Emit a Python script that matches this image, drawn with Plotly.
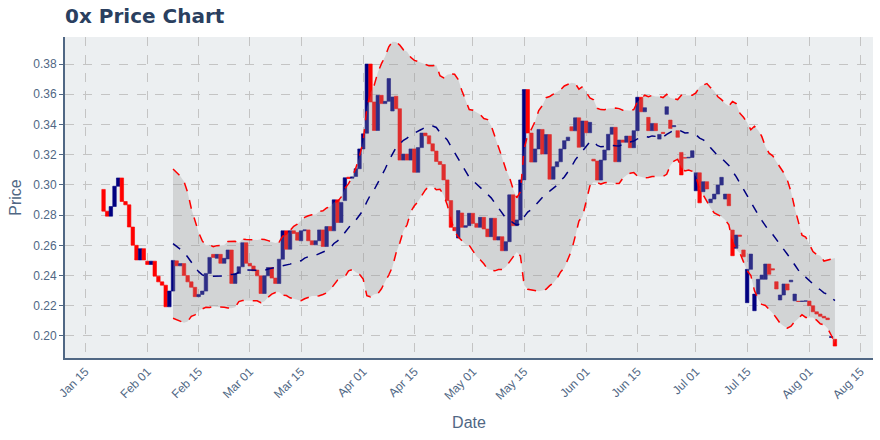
import pandas as pd
import plotly.graph_objects as go

start_date = "2019-01-20"
opens = [
    # Jan 20-31
    .2970, .2826, .2793, .2857, .2991, .3046, .2890, .2868, .2721, .2600, .2503, .2578,
    # Feb
    .2495, .2473, .2495, .2396, .2358, .2336, .2193, .2297, .2497, .2464, .2479, .2400, .2358, .2322,
    .2260, .2275, .2297, .2414, .2540, .2514, .2540, .2481, .2510, .2569, .2348, .2414, .2458, .2617,
    # Mar
    .2481, .2463, .2436, .2398, .2281, .2398, .2453, .2383, .2347, .2508, .2696, .2574, .2696, .2685,
    .2630, .2696, .2702, .2630, .2603, .2630, .2702, .2592, .2724, .2696, .2901, .2751, .2896, .3051,
    .3044, .3056, .3107,
    # Apr
    .3238, .3342, .3800, .3549, .3360, .3593, .3538, .3553, .3489, .3587, .3504, .3164, .3204, .3164,
    .3238, .3083, .3247, .3343, .3325, .3272, .3224, .3155, .3135, .3033, .2896, .2719, .2648, .2814,
    .2719, .2730,
    # May
    .2812, .2745, .2719, .2785, .2708, .2657, .2779, .2635, .2657, .2564, .2624, .2934, .2730, .2768,
    .3033, .3631, .3343, .3151, .3238, .3367, .3204, .3333, .3038, .3120, .3153, .3238, .3293, .3385,
    .3358, .3444, .3253,
    # Jun
    .3423, .3345, .3170, .3158, .3032, .3164, .3231, .3335, .3381, .3153, .3297, .3282, .3323, .3246,
    .3359, .3580, .3484, .3447, .3359, .3407, .3303, .3348, .3467, .3429, .3385, .3359, .3215, .3180,
    .3178, .3182,
    # Jul
    .2961, .3080, .2955, .3021, .2882, .2906, .2939, .2999, .2906, .2939, .2701, .2580, .2668, .2569,
    .2220, .2441, .2167, .2277, .2375, .2375, .2476, .2445, .2359, .2238, .2271, .2344, .2358, .2233,
    .2230, .2228, .2230,
    # Aug 1-8
    .2231, .2200, .2160, .2145, .2130, .2119, .1990, .1978,
]
closes = [
    # Jan 20-31
    .2826, .2793, .2857, .2991, .3046, .2890, .2868, .2721, .2600, .2503, .2578, .2503,
    # Feb
    .2473, .2495, .2396, .2358, .2336, .2193, .2297, .2500, .2464, .2479, .2400, .2358, .2322, .2260,
    .2275, .2297, .2414, .2520, .2520, .2540, .2481, .2514, .2569, .2348, .2414, .2458, .2617, .2481,
    # Mar
    .2463, .2431, .2398, .2281, .2398, .2453, .2383, .2347, .2508, .2696, .2574, .2696, .2678, .2634,
    .2696, .2702, .2630, .2603, .2630, .2702, .2592, .2724, .2696, .2901, .2751, .2884, .3047, .3042,
    .3053, .3107, .3238,
    # Apr
    .3338, .3800, .3549, .3360, .3593, .3538, .3553, .3704, .3582, .3504, .3164, .3204, .3164, .3238,
    .3083, .3247, .3343, .3325, .3272, .3224, .3155, .3135, .3033, .2896, .2719, .2697, .2830, .2719,
    .2730, .2812,
    # May
    .2745, .2719, .2785, .2708, .2657, .2779, .2635, .2657, .2564, .2624, .2934, .2730, .2768, .3033,
    .3631, .3343, .3151, .3238, .3367, .3204, .3333, .3038, .3120, .3153, .3238, .3293, .3316, .3358,
    .3444, .3249, .3423,
    # Jun
    .3345, .3414, .3158, .3032, .3164, .3231, .3335, .3381, .3153, .3297, .3282, .3323, .3246, .3359,
    .3580, .3484, .3511, .3359, .3407, .3359, .3334, .3341, .3517, .3374, .3392, .3315, .3066, .3178,
    .3182, .3226,
    # Jul
    .3080, .2881, .3021, .2973, .2906, .2939, .2999, .3050, .2939, .2862, .2531, .2668, .2660, .2524,
    .2441, .2542, .2277, .2375, .2403, .2476, .2408, .2437, .2311, .2271, .2344, .2304, .2369, .2277,
    .2228, .2230, .2232,
    # Aug 1-8
    .2200, .2160, .2145, .2130, .2119, .2108, .1995, .1933,
]

tick_dates = ["2019-01-15", "2019-02-01", "2019-02-15", "2019-03-01", "2019-03-15", "2019-04-01",
              "2019-04-15", "2019-05-01", "2019-05-15", "2019-06-01", "2019-06-15", "2019-07-01",
              "2019-07-15", "2019-08-01", "2019-08-15"]
y_ticks = [0.20, 0.22, 0.24, 0.26, 0.28, 0.30, 0.32, 0.34, 0.36, 0.38]

dates = pd.date_range(start_date, periods=len(closes), freq="D")
highs = [max(o, c) for o, c in zip(opens, closes)]
lows = [min(o, c) for o, c in zip(opens, closes)]

s = pd.Series(closes, index=dates)
mid = s.rolling(20).mean()
sd = s.rolling(20).std()
upper = mid + 2 * sd
lower = mid - 2 * sd

FONT = "Liberation Sans, Arial, Helvetica, sans-serif"
TITLE_FONT = "DejaVu Sans, Verdana, sans-serif"
fig = go.Figure()
fig.add_trace(go.Scatter(x=dates, y=upper, mode="lines",
                         line=dict(color="#ff0000", width=1.5, dash="dash"), showlegend=False))
fig.add_trace(go.Scatter(x=dates, y=lower, mode="lines", fill="tonexty",
                         fillcolor="rgba(150,150,150,0.3)",
                         line=dict(color="#ff0000", width=1.5, dash="dash"), showlegend=False))
fig.add_trace(go.Scatter(x=dates, y=mid, mode="lines",
                         line=dict(color="#000080", width=1.5, dash="dash"), showlegend=False))
fig.add_trace(go.Candlestick(x=dates, open=opens, high=highs, low=lows, close=closes,
                             increasing=dict(line=dict(color="#000080", width=0.6), fillcolor="#000080"),
                             decreasing=dict(line=dict(color="#ff0000", width=0.6), fillcolor="#ff0000"),
                             showlegend=False))

fig.update_layout(
    width=880, height=440,
    margin=dict(l=65, r=7, t=37, b=82),
    paper_bgcolor="white", plot_bgcolor="#eceff1",
    font=dict(family=FONT, color="#2a3f5f", size=12),
    title=dict(text="<b>0x Price Chart</b>", x=0, xref="paper", xanchor="left",
               y=1 - 16 / 440, yref="container", yanchor="middle",
               font=dict(size=20, color="#2a3f5f", family=TITLE_FONT)),
    showlegend=False,
    boxgap=0.05, boxgroupgap=0,
)
fig.update_xaxes(
    range=["2019-01-09 11:00", "2019-08-18 10:00"],
    rangeslider_visible=False,
    tickvals=tick_dates, tickformat="%b %d", tickangle=-45,
    showgrid=True, gridcolor="#c4c4c4", griddash="dash", gridwidth=1,
    showline=True, linecolor="#506784", linewidth=2,
    ticks="", zeroline=False,
    title=dict(text="Date", font=dict(size=16, color="#506784")),
    tickfont=dict(size=12, color="#506784"),
)
fig.update_yaxes(
    range=[0.1854, 0.3979],
    tickvals=y_ticks, tickformat=".2f",
    showgrid=True, gridcolor="#c4c4c4", griddash="dash", gridwidth=1,
    showline=True, linecolor="#506784", linewidth=2,
    ticks="outside", ticklen=4, tickcolor="#506784", zeroline=False,
    title=dict(text="Price", font=dict(size=16, color="#506784"), standoff=8),
    tickfont=dict(size=12, color="#506784"),
)
fig.write_html("out.html", config={"displayModeBar": False},
               post_script="document.body.style.margin='0';")
